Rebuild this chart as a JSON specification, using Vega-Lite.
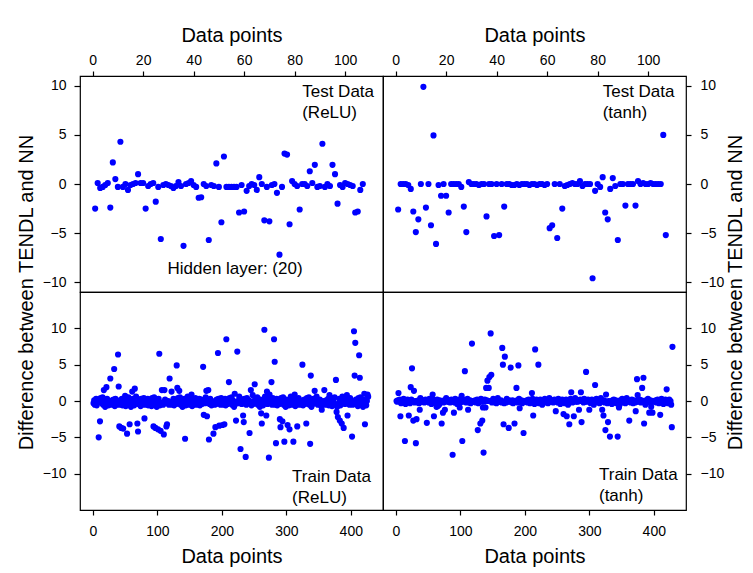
{
"$schema":"https://vega.github.io/schema/vega-lite/v6.json",
"padding":{"left":15,"top":24,"right":5,"bottom":3},
"config":{"view":{"stroke":"black","strokeWidth":1.2},"font":"Liberation Sans","axis":{"grid":false,"domain":false,"tickColor":"black","labelColor":"black","titleColor":"black","labelFontSize":14,"titleFontSize":20,"titleFontWeight":"normal","labelFont":"Liberation Sans","titleFont":"Liberation Sans","tickWidth":1.2},"text":{"font":"Liberation Sans","color":"black"}},
"datasets":{
"tel":[{"x":1,"y":-2.5},{"x":2,"y":0.1},{"x":3,"y":-0.4},{"x":4,"y":-0.3},{"x":5,"y":-0.1},{"x":6,"y":0.1},{"x":7,"y":-2.4},{"x":8,"y":2.2},{"x":9,"y":0.5},{"x":10,"y":-0.3},{"x":11,"y":4.3},{"x":12,"y":-0.3},{"x":13,"y":0},{"x":14,"y":-0.6},{"x":15,"y":-0.1},{"x":16,"y":0},{"x":17,"y":0.1},{"x":18,"y":1.0},{"x":19,"y":0.1},{"x":20,"y":0.1},{"x":21,"y":-2.5},{"x":22,"y":-0.2},{"x":23,"y":0},{"x":24,"y":0.1},{"x":25,"y":-1.8},{"x":26,"y":-0.3},{"x":27,"y":-5.6},{"x":28,"y":-0.1},{"x":29,"y":0},{"x":30,"y":-0.1},{"x":31,"y":-0.2},{"x":32,"y":-0.4},{"x":33,"y":-0.2},{"x":34,"y":0.2},{"x":35,"y":-0.2},{"x":36,"y":-6.3},{"x":37,"y":0},{"x":38,"y":0.1},{"x":39,"y":0.3},{"x":40,"y":-0.1},{"x":41,"y":-0.3},{"x":42,"y":-1.4},{"x":43,"y":-1.35},{"x":44,"y":0},{"x":45,"y":-0.2},{"x":46,"y":-5.7},{"x":47,"y":-0.1},{"x":48,"y":-0.2},{"x":49,"y":2.1},{"x":50,"y":-0.3},{"x":51,"y":-3.9},{"x":52,"y":2.8},{"x":53,"y":-0.3},{"x":54,"y":-0.3},{"x":55,"y":-0.3},{"x":56,"y":-0.3},{"x":57,"y":-0.3},{"x":58,"y":-2.9},{"x":59,"y":-0.1},{"x":60,"y":-2.8},{"x":61,"y":-0.7},{"x":62,"y":-0.2},{"x":63,"y":0},{"x":64,"y":-0.1},{"x":65,"y":-0.6},{"x":66,"y":0.7},{"x":67,"y":0},{"x":68,"y":-3.7},{"x":69,"y":-0.3},{"x":70,"y":-3.8},{"x":71,"y":-0.1},{"x":72,"y":0},{"x":73,"y":-0.9},{"x":74,"y":-7.2},{"x":75,"y":-0.3},{"x":76,"y":3.1},{"x":77,"y":3.0},{"x":78,"y":-4.1},{"x":79,"y":0.3},{"x":80,"y":0},{"x":81,"y":-0.2},{"x":82,"y":-2.6},{"x":83,"y":0},{"x":84,"y":0},{"x":85,"y":-0.2},{"x":86,"y":1.3},{"x":87,"y":0.1},{"x":88,"y":1.95},{"x":89,"y":-0.3},{"x":90,"y":-0.2},{"x":91,"y":4.1},{"x":92,"y":-0.3},{"x":93,"y":0},{"x":94,"y":-0.2},{"x":95,"y":1.95},{"x":96,"y":1.0},{"x":97,"y":-2.0},{"x":98,"y":-0.1},{"x":99,"y":-0.3},{"x":100,"y":0.1},{"x":101,"y":0},{"x":102,"y":-0.1},{"x":103,"y":-0.2},{"x":104,"y":-2.9},{"x":105,"y":-2.8},{"x":106,"y":-0.6},{"x":107,"y":0}],
"tet":[{"x":1,"y":-2.6},{"x":2,"y":0},{"x":3,"y":0},{"x":4,"y":0},{"x":5,"y":-0.1},{"x":6,"y":-0.5},{"x":7,"y":-2.8},{"x":8,"y":-4.9},{"x":9,"y":-3.6},{"x":10,"y":0},{"x":11,"y":9.9},{"x":12,"y":-2.4},{"x":13,"y":0},{"x":14,"y":-4.2},{"x":15,"y":4.95},{"x":16,"y":-6.1},{"x":17,"y":-0.1},{"x":18,"y":-1.2},{"x":19,"y":0},{"x":20,"y":-1.2},{"x":21,"y":-2.9},{"x":22,"y":0},{"x":23,"y":0},{"x":24,"y":0},{"x":25,"y":0},{"x":26,"y":-0.3},{"x":27,"y":-2.3},{"x":28,"y":-4.9},{"x":29,"y":0.2},{"x":30,"y":0},{"x":31,"y":0},{"x":32,"y":0},{"x":33,"y":-0.1},{"x":34,"y":0},{"x":35,"y":0},{"x":36,"y":-3.3},{"x":37,"y":0},{"x":38,"y":0},{"x":39,"y":-5.3},{"x":40,"y":0},{"x":41,"y":-5.2},{"x":42,"y":0},{"x":43,"y":-2.3},{"x":44,"y":0},{"x":45,"y":0},{"x":46,"y":-0.1},{"x":47,"y":-0.1},{"x":48,"y":0},{"x":49,"y":-0.1},{"x":50,"y":0},{"x":51,"y":0},{"x":52,"y":0},{"x":53,"y":-0.1},{"x":54,"y":0},{"x":55,"y":0},{"x":56,"y":-0.1},{"x":57,"y":0},{"x":58,"y":0},{"x":59,"y":-0.1},{"x":60,"y":0},{"x":61,"y":-4.5},{"x":62,"y":-4.2},{"x":63,"y":0},{"x":64,"y":-5.5},{"x":65,"y":0},{"x":66,"y":-2.5},{"x":67,"y":-0.2},{"x":68,"y":-0.1},{"x":69,"y":0},{"x":70,"y":0.1},{"x":71,"y":0},{"x":72,"y":0},{"x":73,"y":0.3},{"x":74,"y":-0.2},{"x":75,"y":0},{"x":76,"y":0},{"x":77,"y":0},{"x":78,"y":-9.6},{"x":79,"y":-0.7},{"x":80,"y":0},{"x":81,"y":-0.3},{"x":82,"y":0.7},{"x":83,"y":-2.9},{"x":84,"y":-3.6},{"x":85,"y":-0.5},{"x":86,"y":0.6},{"x":87,"y":-0.2},{"x":88,"y":-5.7},{"x":89,"y":0},{"x":90,"y":0},{"x":91,"y":-2.2},{"x":92,"y":0},{"x":93,"y":0},{"x":94,"y":0},{"x":95,"y":-2.2},{"x":96,"y":0.3},{"x":97,"y":0},{"x":98,"y":0.1},{"x":99,"y":0},{"x":100,"y":0},{"x":101,"y":0.1},{"x":102,"y":0},{"x":103,"y":0},{"x":104,"y":0},{"x":105,"y":0},{"x":106,"y":5.0},{"x":107,"y":-5.2}],
"trl":[{"x":1,"y":-0.3},{"x":2,"y":0.1},{"x":3,"y":-0.5},{"x":4,"y":-0.1},{"x":5,"y":0.3},{"x":6,"y":-0.6},{"x":7,"y":-0.2},{"x":8,"y":0.2},{"x":9,"y":-5.0},{"x":10,"y":0},{"x":11,"y":-2.8},{"x":12,"y":0.4},{"x":13,"y":-0.1},{"x":14,"y":-0.3},{"x":15,"y":0.5},{"x":16,"y":-0.5},{"x":17,"y":1.5},{"x":18,"y":-0.2},{"x":19,"y":-0.8},{"x":20,"y":0.2},{"x":21,"y":1.9},{"x":22,"y":0.3},{"x":23,"y":-0.1},{"x":24,"y":-0.6},{"x":25,"y":0},{"x":26,"y":-0.3},{"x":27,"y":3.1},{"x":28,"y":-0.2},{"x":29,"y":-0.5},{"x":30,"y":0.1},{"x":31,"y":-0.4},{"x":32,"y":0.2},{"x":33,"y":4.4},{"x":34,"y":-0.7},{"x":35,"y":0.3},{"x":36,"y":-0.3},{"x":37,"y":0},{"x":38,"y":-0.5},{"x":39,"y":6.4},{"x":40,"y":2.0},
{"x":41,"y":-3.5},{"x":42,"y":0.1},{"x":43,"y":-0.5},{"x":44,"y":-3.7},{"x":45,"y":0.3},{"x":46,"y":-0.6},{"x":47,"y":-3.8},{"x":48,"y":0.2},{"x":49,"y":-0.4},{"x":50,"y":0.7},{"x":51,"y":-0.7},{"x":52,"y":0.4},{"x":53,"y":-4.5},{"x":54,"y":-0.3},{"x":55,"y":0.5},{"x":56,"y":-0.5},{"x":57,"y":-3.2},{"x":58,"y":-0.2},{"x":59,"y":-0.8},{"x":60,"y":0.2},{"x":61,"y":1.3},{"x":62,"y":0.3},{"x":63,"y":-0.1},{"x":64,"y":-0.6},{"x":65,"y":1.7},{"x":66,"y":-0.3},{"x":67,"y":0.6},{"x":68,"y":-0.2},{"x":69,"y":-3.1},{"x":70,"y":-4.2},{"x":71,"y":-0.4},{"x":72,"y":0.2},{"x":73,"y":-0.1},{"x":74,"y":-0.7},{"x":75,"y":0.3},{"x":76,"y":-0.3},{"x":77,"y":0},{"x":78,"y":-0.5},{"x":79,"y":0.4},{"x":80,"y":-2.4},
{"x":81,"y":-0.3},{"x":82,"y":0.1},{"x":83,"y":-0.5},{"x":84,"y":-0.1},{"x":85,"y":0.3},{"x":86,"y":-0.6},{"x":87,"y":-0.2},{"x":88,"y":0.2},{"x":89,"y":-0.4},{"x":90,"y":0},{"x":91,"y":-0.7},{"x":92,"y":0.4},{"x":93,"y":-0.1},{"x":94,"y":-3.5},{"x":95,"y":0.5},{"x":96,"y":-0.5},{"x":97,"y":-3.7},{"x":98,"y":-0.2},{"x":99,"y":-0.8},{"x":100,"y":0.2},{"x":101,"y":-3.9},{"x":102,"y":0.3},{"x":103,"y":6.5},{"x":104,"y":-0.6},{"x":105,"y":-4.1},{"x":106,"y":-0.3},{"x":107,"y":1.5},{"x":108,"y":-0.2},{"x":109,"y":-0.5},{"x":110,"y":-4.6},{"x":111,"y":1.5},{"x":112,"y":0.2},{"x":113,"y":-0.1},{"x":114,"y":-3.5},{"x":115,"y":-3.2},{"x":116,"y":-0.3},{"x":117,"y":0},{"x":118,"y":-0.5},{"x":119,"y":3.1},{"x":120,"y":-0.2},
{"x":121,"y":-0.3},{"x":122,"y":1.3},{"x":123,"y":-0.5},{"x":124,"y":-0.1},{"x":125,"y":0.3},{"x":126,"y":-0.6},{"x":127,"y":-0.2},{"x":128,"y":0.2},{"x":129,"y":-0.4},{"x":130,"y":4.9},{"x":131,"y":1.8},{"x":132,"y":0.4},{"x":133,"y":-0.1},{"x":134,"y":1.4},{"x":135,"y":0.5},{"x":136,"y":-0.5},{"x":137,"y":0.1},{"x":138,"y":-0.2},{"x":139,"y":-0.8},{"x":140,"y":0.2},{"x":141,"y":-0.4},{"x":142,"y":0.3},{"x":143,"y":-5.2},{"x":144,"y":-0.6},{"x":145,"y":0},{"x":146,"y":-0.3},{"x":147,"y":0.6},{"x":148,"y":-0.2},{"x":149,"y":-0.5},{"x":150,"y":0.1},{"x":151,"y":-0.4},{"x":152,"y":0.2},{"x":153,"y":0.9},{"x":154,"y":-0.7},{"x":155,"y":0.3},{"x":156,"y":-0.3},{"x":157,"y":0},{"x":158,"y":-0.5},{"x":159,"y":0.4},{"x":160,"y":-0.2},
{"x":161,"y":-0.3},{"x":162,"y":0.1},{"x":163,"y":-0.5},{"x":164,"y":-0.1},{"x":165,"y":0.3},{"x":166,"y":-0.6},{"x":167,"y":-0.2},{"x":168,"y":0.2},{"x":169,"y":-0.4},{"x":170,"y":0},{"x":171,"y":4.7},{"x":172,"y":-1.9},{"x":173,"y":-0.1},{"x":174,"y":-0.3},{"x":175,"y":0.5},{"x":176,"y":1.4},{"x":177,"y":-2.1},{"x":178,"y":-0.2},{"x":179,"y":1.5},{"x":180,"y":-5.3},{"x":181,"y":-0.4},{"x":182,"y":0.3},{"x":183,"y":-0.1},{"x":184,"y":-0.6},{"x":185,"y":0},{"x":186,"y":-0.3},{"x":187,"y":-4.5},{"x":188,"y":-0.2},{"x":189,"y":-0.5},{"x":190,"y":-3.6},{"x":191,"y":-0.4},{"x":192,"y":0.2},{"x":193,"y":-0.1},{"x":194,"y":6.6},{"x":195,"y":0.3},{"x":196,"y":-3.4},{"x":197,"y":0},{"x":198,"y":-0.5},{"x":199,"y":0.4},{"x":200,"y":-0.2},
{"x":201,"y":-3.3},{"x":202,"y":0.1},{"x":203,"y":-0.5},{"x":204,"y":-3.2},{"x":205,"y":0.3},{"x":206,"y":-0.6},{"x":207,"y":8.5},{"x":208,"y":0.2},{"x":209,"y":-0.4},{"x":210,"y":0},{"x":211,"y":2.6},{"x":212,"y":0.4},{"x":213,"y":-0.1},{"x":214,"y":-0.3},{"x":215,"y":0.5},{"x":216,"y":-0.5},{"x":217,"y":0.1},{"x":218,"y":-0.2},{"x":219,"y":-0.8},{"x":220,"y":1.0},{"x":221,"y":-0.4},{"x":222,"y":-2.7},{"x":223,"y":-0.1},{"x":224,"y":6.8},{"x":225,"y":0},{"x":226,"y":-0.3},{"x":227,"y":0.6},{"x":228,"y":-0.2},{"x":229,"y":-6.6},{"x":230,"y":0.1},{"x":231,"y":-0.4},{"x":232,"y":0.2},{"x":233,"y":-2.0},{"x":234,"y":-2.9},{"x":235,"y":0.3},{"x":236,"y":-0.3},{"x":237,"y":-7.7},{"x":238,"y":-0.5},{"x":239,"y":0.4},{"x":240,"y":-0.2},
{"x":241,"y":-0.3},{"x":242,"y":0.1},{"x":243,"y":-4.4},{"x":244,"y":-0.1},{"x":245,"y":1.5},{"x":246,"y":-0.6},{"x":247,"y":-0.2},{"x":248,"y":0.8},{"x":249,"y":-0.4},{"x":250,"y":0},{"x":251,"y":2.3},{"x":252,"y":0.4},{"x":253,"y":-0.1},{"x":254,"y":-0.3},{"x":255,"y":0.5},{"x":256,"y":-0.5},{"x":257,"y":0.1},{"x":258,"y":-0.2},{"x":259,"y":-0.8},{"x":260,"y":0.2},{"x":261,"y":-1.7},{"x":262,"y":-3.1},{"x":263,"y":-0.1},{"x":264,"y":-0.6},{"x":265,"y":0},{"x":266,"y":9.8},{"x":267,"y":0.6},{"x":268,"y":-0.2},{"x":269,"y":-2.0},{"x":270,"y":1.3},{"x":271,"y":-0.4},{"x":272,"y":0.2},{"x":273,"y":-7.8},{"x":274,"y":0.9},{"x":275,"y":0.3},{"x":276,"y":-0.3},{"x":277,"y":2.6},{"x":278,"y":-0.5},{"x":279,"y":0.4},{"x":280,"y":-0.2},
{"x":281,"y":8.5},{"x":282,"y":5.4},{"x":283,"y":-0.5},{"x":284,"y":-5.8},{"x":285,"y":0.3},{"x":286,"y":-0.6},{"x":287,"y":-0.2},{"x":288,"y":0.2},{"x":289,"y":-0.4},{"x":290,"y":-2.5},{"x":291,"y":-3.6},{"x":292,"y":0.4},{"x":293,"y":-0.1},{"x":294,"y":-2.8},{"x":295,"y":0.5},{"x":296,"y":-0.5},{"x":297,"y":-5.6},{"x":298,"y":-0.2},{"x":299,"y":-0.8},{"x":300,"y":0.2},{"x":301,"y":-0.4},{"x":302,"y":-3.3},{"x":303,"y":-0.1},{"x":304,"y":-0.6},{"x":305,"y":-3.9},{"x":306,"y":-0.3},{"x":307,"y":0.6},{"x":308,"y":-0.2},{"x":309,"y":-0.5},{"x":310,"y":0.1},{"x":311,"y":-5.6},{"x":312,"y":0.2},{"x":313,"y":0.9},{"x":314,"y":-0.7},{"x":315,"y":0.3},{"x":316,"y":-0.3},{"x":317,"y":-3.5},{"x":318,"y":-0.5},{"x":319,"y":0.4},{"x":320,"y":-0.2},
{"x":321,"y":-0.3},{"x":322,"y":0.1},{"x":323,"y":-0.5},{"x":324,"y":-0.1},{"x":325,"y":5.0},{"x":326,"y":-0.6},{"x":327,"y":-0.2},{"x":328,"y":0.2},{"x":329,"y":-0.4},{"x":330,"y":0},{"x":331,"y":-3.1},{"x":332,"y":0.4},{"x":333,"y":-0.1},{"x":334,"y":-0.3},{"x":335,"y":0.5},{"x":336,"y":-0.5},{"x":337,"y":-5.9},{"x":338,"y":3.5},{"x":339,"y":-0.8},{"x":340,"y":0.2},{"x":341,"y":-0.4},{"x":342,"y":0.3},{"x":343,"y":-0.1},{"x":344,"y":1.4},{"x":345,"y":0},{"x":346,"y":-0.3},{"x":347,"y":0.6},{"x":348,"y":-0.2},{"x":349,"y":-0.5},{"x":350,"y":0.1},{"x":351,"y":-0.4},{"x":352,"y":0.2},{"x":353,"y":-0.1},{"x":354,"y":-0.7},{"x":355,"y":-1.2},{"x":356,"y":-0.3},{"x":357,"y":0},{"x":358,"y":-0.5},{"x":359,"y":1.5},{"x":360,"y":-0.2},
{"x":361,"y":-0.3},{"x":362,"y":0.1},{"x":363,"y":-0.5},{"x":364,"y":-0.1},{"x":365,"y":0.3},{"x":366,"y":-0.6},{"x":367,"y":0.8},{"x":368,"y":0.2},{"x":369,"y":-0.4},{"x":370,"y":0},{"x":371,"y":-0.7},{"x":372,"y":0.4},{"x":373,"y":-0.1},{"x":374,"y":-0.3},{"x":375,"y":0.5},{"x":376,"y":-0.5},{"x":377,"y":2.9},{"x":378,"y":-1.5},{"x":379,"y":-0.8},{"x":380,"y":-2.2},{"x":381,"y":-0.4},{"x":382,"y":0.3},{"x":383,"y":-2.7},{"x":384,"y":-0.6},{"x":385,"y":0},{"x":386,"y":-3.1},{"x":387,"y":0.6},{"x":388,"y":-0.2},{"x":389,"y":-3.7},{"x":390,"y":0.1},{"x":391,"y":-0.4},{"x":392,"y":0.2},{"x":393,"y":-0.1},{"x":394,"y":0.8},{"x":395,"y":-2.0},{"x":396,"y":-0.3},{"x":397,"y":0},{"x":398,"y":-0.5},{"x":399,"y":0.4},{"x":400,"y":-0.2},
{"x":401,"y":-0.3},{"x":402,"y":-4.9},{"x":403,"y":-0.5},{"x":404,"y":-0.1},{"x":405,"y":9.6},{"x":406,"y":3.5},{"x":407,"y":8.0},{"x":408,"y":0.2},{"x":409,"y":-0.4},{"x":410,"y":0},{"x":411,"y":-0.7},{"x":412,"y":0.4},{"x":413,"y":6.3},{"x":414,"y":3.2},{"x":415,"y":0.5},{"x":416,"y":-0.5},{"x":417,"y":0.1},{"x":418,"y":-0.2},{"x":419,"y":-0.8},{"x":420,"y":0.2},{"x":421,"y":1.0},{"x":422,"y":-3.2},{"x":423,"y":-0.1},{"x":424,"y":-0.6},{"x":425,"y":0},{"x":426,"y":0.9},{"x":427,"y":0.6}],
"trt":[{"x":1,"y":0},{"x":2,"y":-0.1},{"x":3,"y":0.1},{"x":4,"y":1.1},{"x":5,"y":0},{"x":6,"y":0.2},{"x":7,"y":-2.1},{"x":8,"y":-0.3},{"x":9,"y":0.1},{"x":10,"y":0},{"x":11,"y":-0.2},{"x":12,"y":0.3},{"x":13,"y":-0.1},{"x":14,"y":-5.5},{"x":15,"y":-0.4},{"x":16,"y":0.1},{"x":17,"y":-0.1},{"x":18,"y":0.2},{"x":19,"y":0},{"x":20,"y":-2.0},{"x":21,"y":0.1},{"x":22,"y":-0.3},{"x":23,"y":1.9},{"x":24,"y":0.2},{"x":25,"y":4.5},{"x":26,"y":0},{"x":27,"y":-2.7},{"x":28,"y":1.4},{"x":29,"y":-0.2},{"x":30,"y":0},{"x":31,"y":-5.8},{"x":32,"y":-2.5},{"x":33,"y":0},{"x":34,"y":-0.2},{"x":35,"y":0.1},{"x":36,"y":-0.3},{"x":37,"y":-1.2},{"x":38,"y":0.4},{"x":39,"y":-0.1},{"x":40,"y":0},
{"x":41,"y":0},{"x":42,"y":-0.1},{"x":43,"y":0.1},{"x":44,"y":-0.2},{"x":45,"y":0},{"x":46,"y":0.2},{"x":47,"y":-0.1},{"x":48,"y":-3.0},{"x":49,"y":0.1},{"x":50,"y":0},{"x":51,"y":-0.2},{"x":52,"y":0.3},{"x":53,"y":-0.1},{"x":54,"y":0},{"x":55,"y":-0.4},{"x":56,"y":0.1},{"x":57,"y":0.9},{"x":58,"y":0.2},{"x":59,"y":-2.1},{"x":60,"y":-0.2},{"x":61,"y":0.1},{"x":62,"y":-0.3},{"x":63,"y":-0.8},{"x":64,"y":0.2},{"x":65,"y":-0.7},{"x":66,"y":0},{"x":67,"y":-0.5},{"x":68,"y":0.1},{"x":69,"y":-0.2},{"x":70,"y":0},{"x":71,"y":-3.1},{"x":72,"y":-0.1},{"x":73,"y":-1.6},{"x":74,"y":-0.2},{"x":75,"y":0.1},{"x":76,"y":-1.2},{"x":77,"y":0},{"x":78,"y":0.4},{"x":79,"y":-0.1},{"x":80,"y":0},
{"x":81,"y":0},{"x":82,"y":-0.1},{"x":83,"y":0.1},{"x":84,"y":-0.2},{"x":85,"y":0},{"x":86,"y":0.2},{"x":87,"y":-0.1},{"x":88,"y":-7.4},{"x":89,"y":0.1},{"x":90,"y":-1.6},{"x":91,"y":-0.2},{"x":92,"y":0.3},{"x":93,"y":-0.1},{"x":94,"y":0},{"x":95,"y":-0.4},{"x":96,"y":0.1},{"x":97,"y":-0.1},{"x":98,"y":0.2},{"x":99,"y":-0.9},{"x":100,"y":-0.2},{"x":101,"y":0.1},{"x":102,"y":0.7},{"x":103,"y":-5.5},{"x":104,"y":0.2},{"x":105,"y":-0.1},{"x":106,"y":0},{"x":107,"y":4.1},{"x":108,"y":0.1},{"x":109,"y":-0.2},{"x":110,"y":0},{"x":111,"y":0.3},{"x":112,"y":-1.2},{"x":113,"y":0},{"x":114,"y":-0.2},{"x":115,"y":0.1},{"x":116,"y":-0.3},{"x":117,"y":0},{"x":118,"y":7.9},{"x":119,"y":-0.1},{"x":120,"y":0},
{"x":121,"y":0},{"x":122,"y":-0.1},{"x":123,"y":0.1},{"x":124,"y":-0.2},{"x":125,"y":0},{"x":126,"y":0.2},{"x":127,"y":-4.0},{"x":128,"y":-0.3},{"x":129,"y":0.1},{"x":130,"y":0},{"x":131,"y":-3.1},{"x":132,"y":0.3},{"x":133,"y":-0.1},{"x":134,"y":-2.7},{"x":135,"y":-0.9},{"x":136,"y":-7.1},{"x":137,"y":-0.1},{"x":138,"y":0.2},{"x":139,"y":-0.9},{"x":140,"y":1.8},{"x":141,"y":0.1},{"x":142,"y":2.8},{"x":143,"y":0},{"x":144,"y":1.8},{"x":145,"y":3.3},{"x":146,"y":0},{"x":147,"y":9.3},{"x":148,"y":3.6},{"x":149,"y":-0.2},{"x":150,"y":0},{"x":151,"y":0.3},{"x":152,"y":-0.1},{"x":153,"y":0},{"x":154,"y":-0.2},{"x":155,"y":0.1},{"x":156,"y":-0.3},{"x":157,"y":0},{"x":158,"y":0.4},{"x":159,"y":-0.1},{"x":160,"y":0},
{"x":161,"y":0},{"x":162,"y":-0.1},{"x":163,"y":0.1},{"x":164,"y":-0.2},{"x":165,"y":7.3},{"x":166,"y":5.0},{"x":167,"y":-3.2},{"x":168,"y":-0.3},{"x":169,"y":6.1},{"x":170,"y":0},{"x":171,"y":-0.2},{"x":172,"y":0.3},{"x":173,"y":-0.1},{"x":174,"y":0},{"x":175,"y":-3.7},{"x":176,"y":0.1},{"x":177,"y":-0.1},{"x":178,"y":4.6},{"x":179,"y":0},{"x":180,"y":-0.2},{"x":181,"y":0.1},{"x":182,"y":-0.3},{"x":183,"y":0},{"x":184,"y":-3.1},{"x":185,"y":-0.1},{"x":186,"y":0},{"x":187,"y":1.8},{"x":188,"y":0.1},{"x":189,"y":-0.2},{"x":190,"y":4.9},{"x":191,"y":0.3},{"x":192,"y":-1.0},{"x":193,"y":0},{"x":194,"y":-0.2},{"x":195,"y":0.1},{"x":196,"y":-0.3},{"x":197,"y":0},{"x":198,"y":-4.4},{"x":199,"y":-0.1},{"x":200,"y":0},
{"x":201,"y":0},{"x":202,"y":-0.1},{"x":203,"y":0.1},{"x":204,"y":-0.2},{"x":205,"y":0},{"x":206,"y":0.2},{"x":207,"y":-0.1},{"x":208,"y":-0.3},{"x":209,"y":0.1},{"x":210,"y":0},{"x":211,"y":1.1},{"x":212,"y":0.3},{"x":213,"y":-2.0},{"x":214,"y":0},{"x":215,"y":-0.4},{"x":216,"y":7.1},{"x":217,"y":-0.1},{"x":218,"y":0.2},{"x":219,"y":0},{"x":220,"y":-0.2},{"x":221,"y":5.0},{"x":222,"y":-0.3},{"x":223,"y":0},{"x":224,"y":0.2},{"x":225,"y":-0.1},{"x":226,"y":0},{"x":227,"y":-0.5},{"x":228,"y":0.1},{"x":229,"y":-0.2},{"x":230,"y":0},{"x":231,"y":0.3},{"x":232,"y":-0.1},{"x":233,"y":0},{"x":234,"y":-0.2},{"x":235,"y":0.1},{"x":236,"y":-0.3},{"x":237,"y":0},{"x":238,"y":0.4},{"x":239,"y":-0.1},{"x":240,"y":0},
{"x":241,"y":0},{"x":242,"y":-0.1},{"x":243,"y":0.1},{"x":244,"y":-0.2},{"x":245,"y":0},{"x":246,"y":0.2},{"x":247,"y":-0.1},{"x":248,"y":-1.4},{"x":249,"y":0.1},{"x":250,"y":0},{"x":251,"y":-0.2},{"x":252,"y":0.3},{"x":253,"y":-0.1},{"x":254,"y":0},{"x":255,"y":-0.4},{"x":256,"y":0.1},{"x":257,"y":-0.1},{"x":258,"y":0.2},{"x":259,"y":0},{"x":260,"y":-1.8},{"x":261,"y":0.1},{"x":262,"y":-0.3},{"x":263,"y":0},{"x":264,"y":0.2},{"x":265,"y":-2.1},{"x":266,"y":0},{"x":267,"y":-0.5},{"x":268,"y":0.1},{"x":269,"y":-3.2},{"x":270,"y":0},{"x":271,"y":0.3},{"x":272,"y":1.2},{"x":273,"y":0},{"x":274,"y":-0.2},{"x":275,"y":0.1},{"x":276,"y":-2.1},{"x":277,"y":0},{"x":278,"y":0.4},{"x":279,"y":-0.1},{"x":280,"y":0},
{"x":281,"y":0},{"x":282,"y":-0.1},{"x":283,"y":0.1},{"x":284,"y":-1.2},{"x":285,"y":0},{"x":286,"y":0.2},{"x":287,"y":1.2},{"x":288,"y":-2.9},{"x":289,"y":0.1},{"x":290,"y":0},{"x":291,"y":-0.2},{"x":292,"y":0.3},{"x":293,"y":-0.1},{"x":294,"y":0},{"x":295,"y":4.0},{"x":296,"y":0.1},{"x":297,"y":-0.1},{"x":298,"y":0.2},{"x":299,"y":0},{"x":300,"y":-1.2},{"x":301,"y":0.1},{"x":302,"y":-0.3},{"x":303,"y":0},{"x":304,"y":0.2},{"x":305,"y":-0.1},{"x":306,"y":0},{"x":307,"y":-0.5},{"x":308,"y":0.1},{"x":309,"y":2.2},{"x":310,"y":0},{"x":311,"y":0.3},{"x":312,"y":-0.1},{"x":313,"y":0},{"x":314,"y":-0.2},{"x":315,"y":0.1},{"x":316,"y":-0.3},{"x":317,"y":0},{"x":318,"y":0.4},{"x":319,"y":-0.1},{"x":320,"y":-1.2},
{"x":321,"y":0},{"x":322,"y":-2.0},{"x":323,"y":0.1},{"x":324,"y":-0.2},{"x":325,"y":-4.0},{"x":326,"y":0.9},{"x":327,"y":-0.1},{"x":328,"y":-0.3},{"x":329,"y":-2.9},{"x":330,"y":0},{"x":331,"y":-0.2},{"x":332,"y":-4.9},{"x":333,"y":-0.1},{"x":334,"y":0},{"x":335,"y":-0.4},{"x":336,"y":0.1},{"x":337,"y":-0.1},{"x":338,"y":0.2},{"x":339,"y":0},{"x":340,"y":-0.2},{"x":341,"y":0.1},{"x":342,"y":-0.3},{"x":343,"y":0},{"x":344,"y":-4.9},{"x":345,"y":-0.1},{"x":346,"y":-0.9},{"x":347,"y":-0.5},{"x":348,"y":0.1},{"x":349,"y":-0.2},{"x":350,"y":0},{"x":351,"y":0.3},{"x":352,"y":-0.1},{"x":353,"y":0},{"x":354,"y":-0.2},{"x":355,"y":0.1},{"x":356,"y":-0.3},{"x":357,"y":0},{"x":358,"y":0.4},{"x":359,"y":-0.1},{"x":360,"y":0},
{"x":361,"y":0},{"x":362,"y":-2.7},{"x":363,"y":0.1},{"x":364,"y":-0.2},{"x":365,"y":0},{"x":366,"y":0.2},{"x":367,"y":-0.1},{"x":368,"y":-0.3},{"x":369,"y":0.1},{"x":370,"y":0},{"x":371,"y":-0.2},{"x":372,"y":-1.4},{"x":373,"y":-0.1},{"x":374,"y":3.0},{"x":375,"y":0.8},{"x":376,"y":0.1},{"x":377,"y":-0.1},{"x":378,"y":0.2},{"x":379,"y":0},{"x":380,"y":-0.2},{"x":381,"y":0.1},{"x":382,"y":1.8},{"x":383,"y":0},{"x":384,"y":3.2},{"x":385,"y":-3.1},{"x":386,"y":0},{"x":387,"y":-0.5},{"x":388,"y":0.1},{"x":389,"y":-0.2},{"x":390,"y":0},{"x":391,"y":0.3},{"x":392,"y":-0.1},{"x":393,"y":-1.6},{"x":394,"y":-0.2},{"x":395,"y":0.1},{"x":396,"y":-0.8},{"x":397,"y":0},{"x":398,"y":-1.6},{"x":399,"y":-0.1},{"x":400,"y":0},
{"x":401,"y":0},{"x":402,"y":-0.1},{"x":403,"y":0.1},{"x":404,"y":-0.2},{"x":405,"y":0},{"x":406,"y":0.2},{"x":407,"y":-0.1},{"x":408,"y":-0.3},{"x":409,"y":0.1},{"x":410,"y":-1.9},{"x":411,"y":-0.2},{"x":412,"y":0.3},{"x":413,"y":-0.1},{"x":414,"y":0},{"x":415,"y":-0.4},{"x":416,"y":0.1},{"x":417,"y":-0.1},{"x":418,"y":0.2},{"x":419,"y":0},{"x":420,"y":1.6},{"x":421,"y":0.1},{"x":422,"y":-0.3},{"x":423,"y":0},{"x":424,"y":0.2},{"x":425,"y":-0.1},{"x":426,"y":0},{"x":427,"y":-0.5},{"x":428,"y":-3.6},{"x":429,"y":7.45}]
},
"concat":[
{"width":303,"height":216,
"encoding":{
"x":{"field":"x","type":"quantitative","scale":{"domain":[-5,115],"nice":false,"zero":false},"axis":{"orient":"top","values":[0,20,40,60,80,100],"title":"Data points","tickSize":5,"labelPadding":4,"titlePadding":8}},
"y":{"field":"y","type":"quantitative","scale":{"domain":[-11,11],"nice":false},"axis":{"orient":"left","values":[-10,-5,0,5,10],"title":"Difference between TENDL and NN","titleX":-54,"titleY":216,"titleAngle":270,"titleBaseline":"middle","titleAlign":"center","tickSize":6,"labelPadding":8}}},
"layer":[
{"data":{"name":"tel"},"mark":{"type":"circle","size":38,"color":"#0000ff","opacity":1}},
{"data":{"values":[{"x":83,"y":10.2,"t":"Test Data\n(ReLU)"}]},"mark":{"type":"text","align":"left","baseline":"top","fontSize":17,"lineHeight":21,"lineBreak":"\n"},"encoding":{"text":{"field":"t"}}},
{"data":{"values":[{"x":56.4,"y":-9.2,"t":"Hidden layer: (20)"}]},"mark":{"type":"text","align":"center","baseline":"alphabetic","fontSize":17},"encoding":{"text":{"field":"t"}}}
]},
{"width":303,"height":216,
"encoding":{
"x":{"field":"x","type":"quantitative","scale":{"domain":[-5,115],"nice":false,"zero":false},"axis":{"orient":"top","values":[0,20,40,60,80,100],"title":"Data points","tickSize":5,"labelPadding":4,"titlePadding":8}},
"y":{"field":"y","type":"quantitative","scale":{"domain":[-11,11],"nice":false},"axis":{"orient":"right","values":[-10,-5,0,5,10],"title":"Difference between TENDL and NN","titleX":49,"titleY":216,"titleAngle":270,"titleBaseline":"middle","titleAlign":"center","tickSize":5,"labelPadding":9}}},
"layer":[
{"data":{"name":"tet"},"mark":{"type":"circle","size":38,"color":"#0000ff","opacity":1}},
{"data":{"values":[{"x":82,"y":10.2,"t":"Test Data\n(tanh)"}]},"mark":{"type":"text","align":"left","baseline":"top","fontSize":17,"lineHeight":21,"lineBreak":"\n"},"encoding":{"text":{"field":"t"}}}
]},
{"width":303,"height":218,
"encoding":{
"x":{"field":"x","type":"quantitative","scale":{"domain":[-20,450],"nice":false,"zero":false},"axis":{"orient":"bottom","values":[0,100,200,300,400],"title":"Data points","tickSize":5,"labelPadding":9,"titlePadding":8}},
"y":{"field":"y","type":"quantitative","scale":{"domain":[-15,15],"nice":false},"axis":{"orient":"left","values":[-10,-5,0,5,10],"title":null,"tickSize":6,"labelPadding":8}}},
"layer":[
{"data":{"name":"trl"},"mark":{"type":"circle","size":38,"color":"#0000ff","opacity":1}},
{"data":{"values":[{"x":309,"y":-9.3,"t":"Train Data\n(ReLU)"}]},"mark":{"type":"text","align":"left","baseline":"top","fontSize":17,"lineHeight":21,"lineBreak":"\n"},"encoding":{"text":{"field":"t"}}}
]},
{"width":303,"height":218,
"encoding":{
"x":{"field":"x","type":"quantitative","scale":{"domain":[-20,450],"nice":false,"zero":false},"axis":{"orient":"bottom","values":[0,100,200,300,400],"title":"Data points","tickSize":5,"labelPadding":9,"titlePadding":8}},
"y":{"field":"y","type":"quantitative","scale":{"domain":[-15,15],"nice":false},"axis":{"orient":"right","values":[-10,-5,0,5,10],"title":null,"tickSize":5,"labelPadding":9}}},
"layer":[
{"data":{"name":"trt"},"mark":{"type":"circle","size":38,"color":"#0000ff","opacity":1}},
{"data":{"values":[{"x":315,"y":-9.1,"t":"Train Data\n(tanh)"}]},"mark":{"type":"text","align":"left","baseline":"top","fontSize":17,"lineHeight":21,"lineBreak":"\n"},"encoding":{"text":{"field":"t"}}}
]}
],
"columns":2,"spacing":0,"bounds":"flush"
}
